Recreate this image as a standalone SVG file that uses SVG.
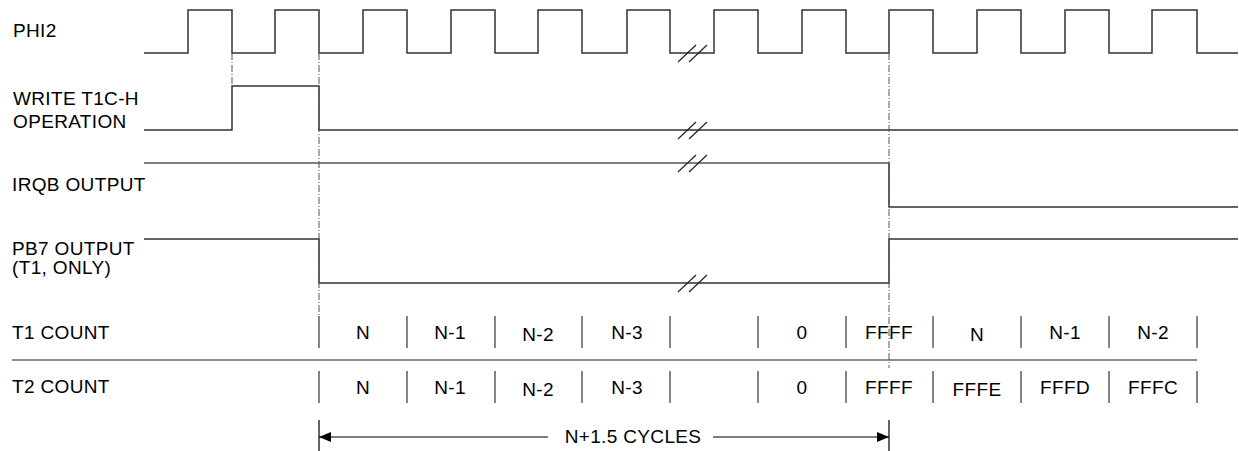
<svg xmlns="http://www.w3.org/2000/svg" width="1239" height="451" viewBox="0 0 1239 451">
<style>
.t{font-family:"Liberation Sans",Arial,Helvetica,sans-serif;font-size:19px;letter-spacing:0.35px;fill:#000}
.c{text-anchor:middle}
.w{fill:none;stroke:#333;stroke-width:1.5}
.g{fill:none;stroke:#808080;stroke-width:2}
.brk{stroke:#222;stroke-width:1.2}
.dd{stroke:#555;stroke-width:1;stroke-dasharray:7 2 1 2;fill:none}
.tk{stroke:#444;stroke-width:1.3}
.ar{stroke:#000;stroke-width:1.2;fill:none}
</style>
<defs>
<marker id="ah" viewBox="0 0 12 10" refX="12" refY="5" markerWidth="12" markerHeight="10" markerUnits="userSpaceOnUse" orient="auto-start-reverse">
<path d="M0,0 L12,5 L0,10 Z" fill="#000"/>
</marker>
</defs>
<rect width="1239" height="451" fill="#fff"/>

<g id="phi2">
<text class="t" x="13" y="37">PHI2</text>
<path class="w" d="M144,53 H188 V10 H232 V53 H275 V10 H319 V53 H363 V10 H407 V53 H451 V10 H495 V53 H538 V10 H582 V53 H627 V10 H670 V53 H714 V10 H758 V53 H802 V10 H846 V53 H889 V10 H933 V53 H977 V10 H1021 V53 H1065 V10 H1109 V53 H1152 V10 H1197 V53 H1238"/>
<path class="brk" d="M678,62 L696,45 M689,62 L707,45"/>
</g>

<g id="write">
<text class="t" x="13" y="105">WRITE T1C-H</text>
<text class="t" x="13" y="128">OPERATION</text>
<path class="w" d="M144,130 H232 V86 H319 V130 H1238"/>
<path class="brk" d="M678,139 L696,122 M689,139 L707,122"/>
</g>

<g id="irqb">
<text class="t" x="12" y="191">IRQB OUTPUT</text>
<path class="g" d="M144,163 H889"/>
<path class="w" d="M889,163 V207 H1238"/>
<path class="brk" d="M678,172 L696,155 M689,172 L707,155"/>
</g>

<g id="pb7">
<text class="t" x="12" y="255">PB7 OUTPUT</text>
<text class="t" x="12" y="274">(T1, ONLY)</text>
<path class="w" d="M144,239 H319 V283 H889 V239 H1238"/>
<path class="brk" d="M678,292 L696,275 M689,292 L707,275"/>
</g>

<g id="t1count">
<text class="t" x="12" y="339">T1 COUNT</text>
<path class="tk" d="M319,316 V348 M407,316 V348 M495,316 V348 M582,316 V348 M670,316 V348 M758,316 V348 M846,316 V348 M933,316 V348 M1021,316 V348 M1109,316 V348 M1197,316 V348"/>
<text class="t c" x="363" y="339">N</text>
<text class="t c" x="450" y="339">N-1</text>
<text class="t c" x="538" y="341">N-2</text>
<text class="t c" x="627" y="339">N-3</text>
<text class="t c" x="802" y="339">0</text>
<text class="t c" x="889" y="339">FFFF</text>
<text class="t c" x="977" y="341">N</text>
<text class="t c" x="1065" y="339">N-1</text>
<text class="t c" x="1153" y="339">N-2</text>
</g>

<g id="separator">
<path d="M12,360 H1197" stroke="#666" stroke-width="1.5"/>
</g>

<g id="t2count">
<text class="t" x="12" y="393">T2 COUNT</text>
<path class="tk" d="M319,371 V403 M407,371 V403 M495,371 V403 M582,371 V403 M670,371 V403 M758,371 V403 M846,371 V403 M933,371 V403 M1021,371 V403 M1109,371 V403 M1197,371 V403"/>
<text class="t c" x="363" y="394">N</text>
<text class="t c" x="450" y="394">N-1</text>
<text class="t c" x="538" y="396">N-2</text>
<text class="t c" x="627" y="394">N-3</text>
<text class="t c" x="802" y="394">0</text>
<text class="t c" x="889" y="394">FFFF</text>
<text class="t c" x="977" y="396">FFFE</text>
<text class="t c" x="1065" y="394">FFFD</text>
<text class="t c" x="1153" y="394">FFFC</text>
</g>

<g id="connectors">
<path class="dd" d="M232,53 V86"/>
<path class="dd" d="M319,53 V316"/>
<path class="dd" d="M889,53 V368"/>
<path class="ar" d="M319,420 V451 M889,420 V451"/>
<path class="ar" d="M548,437 H319" marker-end="url(#ah)"/>
<path class="ar" d="M713,437 H889" marker-end="url(#ah)"/>
<text class="t c" x="633" y="443">N+1.5 CYCLES</text>
</g>
</svg>
